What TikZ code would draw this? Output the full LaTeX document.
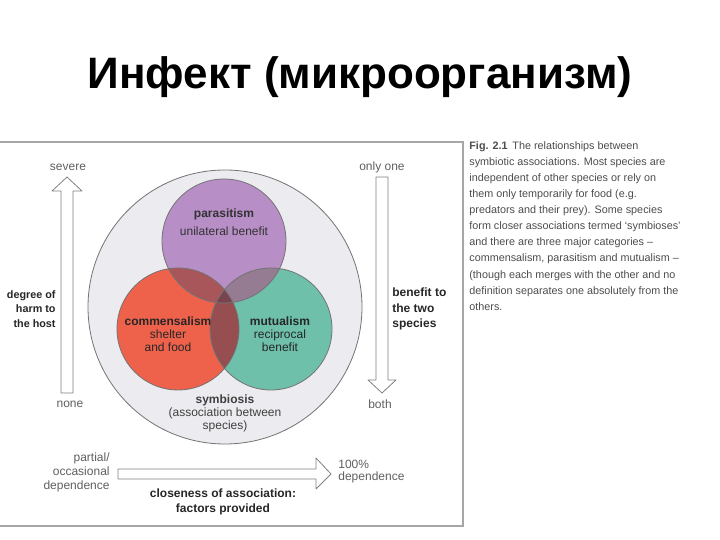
\documentclass[tikz,border=0pt]{standalone}
\usepackage{fontspec}
\setmainfont{Liberation Sans}
\usetikzlibrary{calc}

\definecolor{parcol}{RGB}{183,142,198}
\definecolor{comcol}{RGB}{238,98,76}
\definecolor{mutcol}{RGB}{110,192,170}
\definecolor{pccol}{RGB}{168,86,90}
\definecolor{pmcol}{RGB}{150,124,146}
\definecolor{cmcol}{RGB}{150,78,80}
\definecolor{allcol}{RGB}{122,68,78}
\definecolor{symcol}{RGB}{236,236,240}
\definecolor{inkgray}{RGB}{95,95,95}

\begin{document}
\begin{tikzpicture}[x=0.5pt,y=-0.5pt,
	every node/.style={inner sep=0pt},
	small/.style={font=\fontsize{6}{7}\selectfont, text=inkgray, align=center},
	bold/.style={font=\fontsize{6}{7.5}\selectfont\bfseries, text=black!85},
	ring/.style={draw=black!55, line width=0.4pt},
	bigarrow/.style={draw=black!50, line width=0.4pt, fill=white, line join=round}]
	\useasboundingbox (0,0) rectangle (720,540);

	% title
	\node[anchor=base, font=\fontsize{22}{26}\selectfont\bfseries] (title) at (360,89) {Инфект (микроорганизм)};

	% frame of the scanned figure
	\draw[black!35, line width=0.6pt] (0,142) -- (463,142) -- (463,526) -- (0,526);

	% symbiosis and the three circles
	\coordinate (sym) at (225,307);
	\coordinate (par) at (224,241);
	\coordinate (com) at (178,329);
	\coordinate (mut) at (271,329);
	\draw[ring, fill=symcol] (sym) circle[radius=137];
	\fill[parcol] (par) circle[radius=62];
	\fill[comcol] (com) circle[radius=61];
	\fill[mutcol] (mut) circle[radius=61];
	\begin{scope}
		\clip (par) circle[radius=62];
		\fill[pccol] (com) circle[radius=61];
		\fill[pmcol] (mut) circle[radius=61];
	\end{scope}
	\begin{scope}
		\clip (com) circle[radius=61];
		\fill[cmcol] (mut) circle[radius=61];
		\clip (par) circle[radius=62];
		\fill[allcol] (mut) circle[radius=61];
	\end{scope}
	\draw[ring] (par) circle[radius=62];
	\draw[ring] (com) circle[radius=61];
	\draw[ring] (mut) circle[radius=61];

	\node[font=\fontsize{6}{9}\selectfont, text=black!80, align=center] (partxt) at (224,222) {\textbf{parasitism}\\unilateral benefit};
	\node[font=\fontsize{6}{6.5}\selectfont, text=black!85, align=center] (comtxt) at (168,334) {\textbf{commensalism}\\shelter\\and food};
	\node[font=\fontsize{6}{6.5}\selectfont, text=black!85, align=center] (muttxt) at (280,334) {\textbf{mutualism}\\reciprocal\\benefit};
	\node[small, text=black!75, font=\fontsize{6}{6.5}\selectfont] (symtxt) at (225,413) {\textbf{symbiosis}\\(association between\\species)};

	% harm scale
	\node[small] (severe) at (68,167) {severe};
	\node[small] (none) at (70,404) {none};
	\coordinate (harmtip) at (67,177);
	\draw[bigarrow] (harmtip) -- ++(15,14) -- ++(-9,0) -- ++(0,202) -- ++(-12,0) -- ++(0,-202) -- ++(-9,0) -- cycle;
	\node[bold, anchor=east, align=right, font=\fontsize{5.4}{7.3}\selectfont\bfseries] (harm) at (56,309) {degree of\\harm to\\the host};

	% benefit scale
	\node[small] (onlyone) at (382,167) {only one};
	\node[small] (both) at (380,404) {both};
	\coordinate (bentop) at (382,177);
	\draw[bigarrow] (bentop) ++(-6,0) -- ++(12,0) -- ++(0,203) -- ++(8,0) -- ++(-14,13) -- ++(-14,-13) -- ++(8,0) -- cycle;
	\node[bold, anchor=west, align=left, font=\fontsize{6}{7.8}\selectfont\bfseries] (benefit) at (392,309) {benefit to\\the two\\species};

	% closeness scale
	\node[small, anchor=east, align=right] (partial) at (110,472) {partial/\\occasional\\dependence};
	\node[small, anchor=west, align=left, font=\fontsize{6}{6}\selectfont] (full) at (338,472) {100\%\\dependence};
	\coordinate (closetip) at (331,474);
	\draw[bigarrow] (closetip) -- ++(-15,-16) -- ++(0,11) -- ++(-198,0) -- ++(0,10) -- ++(198,0) -- ++(0,10) -- cycle;
	\node[bold, align=center] (closeness) at (223,502) {closeness of association:\\factors provided};

	% caption
	\node[anchor=north west, align=left, text=black!70, font=\fontsize{5.4}{8.05}\selectfont] (caption) at (469,141) {%
		\textbf{Fig. 2.1}\, The relationships between\\
		symbiotic associations. Most species are\\
		independent of other species or rely on\\
		them only temporarily for food (e.g.\\
		predators and their prey). Some species\\
		form closer associations termed ‘symbioses’\\
		and there are three major categories –\\
		commensalism, parasitism and mutualism –\\
		(though each merges with the other and no\\
		definition separates one absolutely from the\\
		others.};
\end{tikzpicture}
\end{document}
